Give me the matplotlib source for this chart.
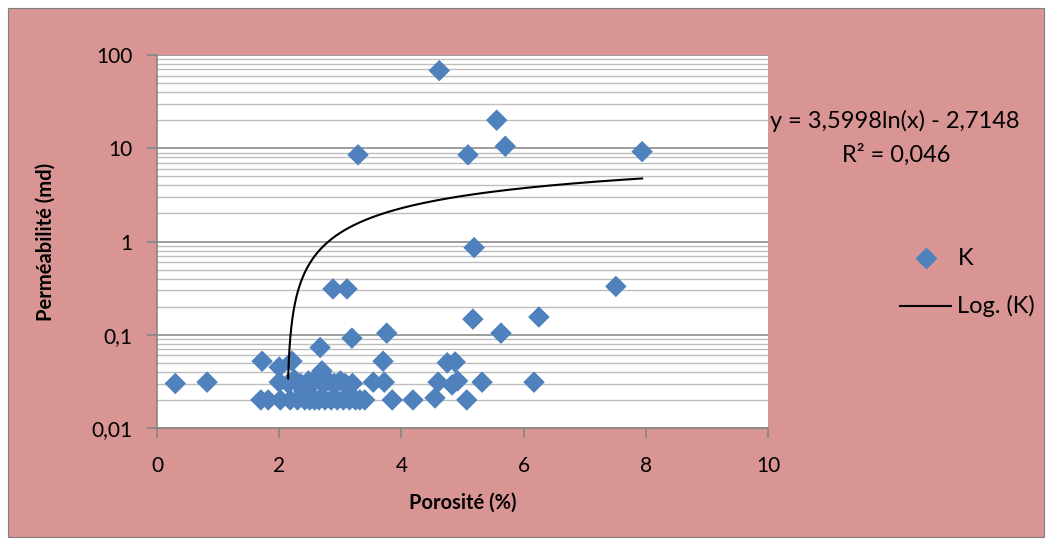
import numpy as np
import matplotlib
matplotlib.use("Agg")
import matplotlib.pyplot as plt
from matplotlib.patches import Rectangle
from matplotlib.lines import Line2D
from matplotlib.ticker import FixedLocator, LogLocator, NullFormatter, FuncFormatter

# ---- data ----
porosity = [0.30, 0.82, 1.72, 1.70, 1.82, 2.00, 2.00, 2.02, 2.21, 2.15, 2.18, 2.25, 2.30,
            2.35, 2.40, 2.42, 2.48, 2.50, 2.55, 2.58, 2.62, 2.65, 2.67, 2.70, 2.72, 2.75,
            2.80, 2.85, 2.88, 2.90, 2.95, 3.00, 3.05, 3.08, 3.11, 3.15, 3.19, 3.20, 3.25,
            3.29, 3.32, 3.40, 3.54, 3.70, 3.72, 3.76, 3.85, 4.19, 4.55, 4.60, 4.62, 4.75,
            4.83, 4.88, 4.92, 5.07, 5.09, 5.17, 5.19, 5.32, 5.56, 5.63, 5.70, 6.17, 6.25,
            7.51, 7.94]
permeability = [0.030, 0.031, 0.052, 0.020, 0.020, 0.045, 0.031, 0.020, 0.052, 0.030, 0.020,
                0.033, 0.020, 0.030, 0.025, 0.020, 0.032, 0.020, 0.030, 0.020, 0.035, 0.020,
                0.073, 0.041, 0.030, 0.020, 0.032, 0.020, 0.310, 0.030, 0.020, 0.032, 0.020,
                0.030, 0.310, 0.020, 0.092, 0.030, 0.020, 8.5, 0.020, 0.020, 0.031, 0.052,
                0.031, 0.104, 0.020, 0.020, 0.021, 0.031, 68.0, 0.050, 0.029, 0.051, 0.032,
                0.020, 8.5, 0.147, 0.86, 0.031, 20.0, 0.104, 10.5, 0.031, 0.155, 0.33, 9.2]
trend_a = 3.5998
trend_b = -2.7148
x_ticks = [0, 2, 4, 6, 8, 10]
y_ticks = [0.01, 0.1, 1, 10, 100]
y_tick_labels = ["0,01", "0,1", "1", "10", "100"]

PINK = "#D99594"
BLUE = "#4F81BD"
FONT = "Lato"

fig = plt.figure(figsize=(10.51, 5.49), dpi=100)
fig.patch.set_facecolor("white")
# chart area
fig.patches.append(Rectangle((8/1051, 1 - 537/549), (1044-8)/1051, (537-8)/549,
                             transform=fig.transFigure, facecolor=PINK,
                             edgecolor="#7F7F7F", linewidth=0.8, zorder=-10))

ax = fig.add_axes([157/1051, 1 - 428/549, (768-157)/1051, (428-55)/549])
ax.set_zorder(1)
ax.set_facecolor("white")
ax.set_yscale("log")
ax.set_xlim(0, 10)
ax.set_ylim(0.01, 100)

ax.yaxis.set_major_locator(FixedLocator(y_ticks))
ax.yaxis.set_major_formatter(FuncFormatter(lambda v, p: y_tick_labels[y_ticks.index(v)] if v in y_ticks else ""))
ax.yaxis.set_minor_locator(LogLocator(base=10, subs=np.arange(2, 10), numticks=20))
ax.yaxis.set_minor_formatter(NullFormatter())
ax.xaxis.set_major_locator(FixedLocator(x_ticks))

ax.grid(True, which="major", axis="y", color="#8C8C8C", linewidth=1.2, zorder=1)
ax.grid(True, which="minor", axis="y", color="#BDBDBD", linewidth=1.0, zorder=1)
ax.set_axisbelow(True)

for s in ["top", "right"]:
    ax.spines[s].set_visible(False)
for s in ["left", "bottom"]:
    ax.spines[s].set_color("#868686")
    ax.spines[s].set_linewidth(1.2)

ax.tick_params(axis="both", which="major", direction="out", length=7, width=1.2,
               color="#868686", labelsize=15)
ax.tick_params(axis="y", which="major", pad=10.5)
ax.tick_params(axis="x", which="major", pad=13.5)
ax.tick_params(axis="y", which="minor", length=0)
for lab in ax.get_xticklabels() + ax.get_yticklabels():
    lab.set_fontfamily(FONT)

ax.scatter(porosity, permeability, marker="D", s=120, color=BLUE, edgecolors="none",
           zorder=3, clip_on=False)

# logarithmic trendline (Excel style, linear in y)
xt = np.linspace(min(porosity), max(porosity), 2000)
yt = trend_a * np.log(xt) + trend_b
mask = yt > 0.033
ax.plot(xt[mask], yt[mask], color="black", linewidth=1.5, zorder=4)

ax.set_xlabel("Porosité (%)", fontsize=14.5, fontweight="bold", fontfamily=FONT, labelpad=12)
ax.set_ylabel("Perméabilité (md)", fontsize=14.5, fontweight="bold", fontfamily=FONT, labelpad=26)

fig.text(895/1051, 1 - 121/549, "y = 3,5998ln(x) - 2,7148", ha="center", va="center",
         fontsize=17, fontfamily=FONT)
fig.text(896/1051, 1 - 155/549, "R² = 0,046", ha="center", va="center",
         fontsize=17, fontfamily=FONT)

# legend
fig.lines.append(Line2D([926/1051], [1 - 258/549], marker="D", markersize=10, color=BLUE,
                        linestyle="none", transform=fig.transFigure))
fig.text(958/1051, 1 - 258/549, "K", ha="left", va="center", fontsize=17, fontfamily=FONT)
fig.lines.append(Line2D([900/1051, 951/1051], [1 - 306/549, 1 - 306/549], color="black",
                        linewidth=1.5, transform=fig.transFigure))
fig.text(957/1051, 1 - 306/549, "Log. (K)", ha="left", va="center", fontsize=17, fontfamily=FONT)

fig.savefig("out.png", dpi=100)
